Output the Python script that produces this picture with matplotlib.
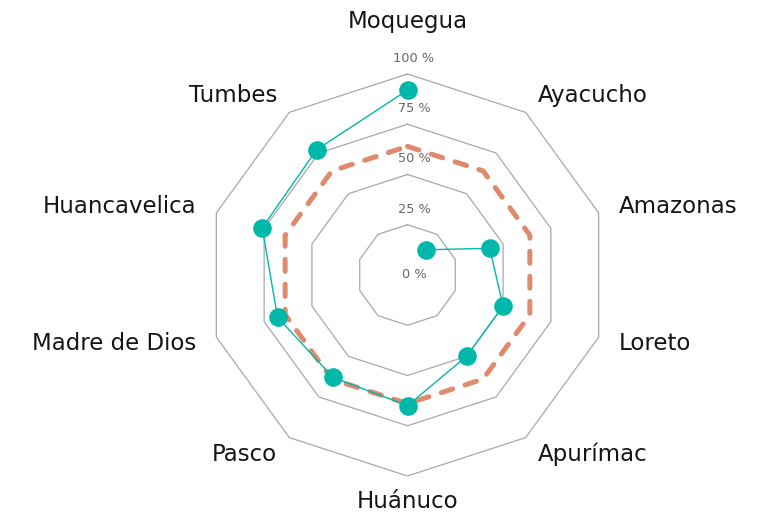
import numpy as np
import matplotlib
matplotlib.use("Agg")
import matplotlib.pyplot as plt
from matplotlib.transforms import offset_copy

plt.rcParams['font.family'] = ['DejaVu Sans']

categories = ["Moquegua", "Ayacucho", "Amazonas", "Loreto", "Apurímac",
              "Huánuco", "Pasco", "Madre de Dios", "Huancavelica", "Tumbes"]
region_values = [92, 15.5, 43, 50, 50, 65, 63, 68, 76, 77]
reference_values = [64, 64, 64, 64, 64, 64, 64, 64, 64, 64]
ring_ticks = [0, 25, 50, 75, 100]
ring_labels = ["0 %", "25 %", "50 %", "75 %", "100 %"]

W, H = 761, 519
fig = plt.figure(figsize=(W / 100, H / 100), dpi=100)
cx, cy, R = 407.5, 275.0, 201.0
ax = fig.add_axes([(cx - R) / W, (H - cy - R) / H, 2 * R / W, 2 * R / H],
                  projection='polar')
ax.set_theta_zero_location('N')
ax.set_theta_direction(-1)
ax.set_ylim(0, 100)
ax.grid(False)
ax.spines['polar'].set_visible(False)
ax.set_xticks([])
ax.set_yticks([])
ax.patch.set_alpha(0)

n = len(categories)
theta = np.linspace(0, 2 * np.pi, n, endpoint=False)
theta_closed = np.append(theta, theta[0])

# polygon grid rings
for t in ring_ticks[1:]:
    ax.plot(theta_closed, [t] * (n + 1), color='#A8A8A8', lw=0.9, zorder=1,
            clip_on=False)

# ring labels
tr = offset_copy(ax.transData, fig=fig, x=6.5, y=0, units='dots')
tr_up = offset_copy(ax.transData, fig=fig, x=6.5, y=15.5, units='dots')
for t, lab in zip(ring_ticks, ring_labels):
    ax.text(0, t, lab, transform=(tr if t == 0 else tr_up), ha='center',
            va='center', fontsize=9.3, color='#666666', zorder=5)

# reference dashed series (closed)
ref_closed = np.append(reference_values, reference_values[0])
ax.plot(theta_closed, ref_closed, color='#E08A6D', lw=3.6,
        linestyle=(0, (2.4, 2.6)), dash_capstyle='round',
        dash_joinstyle='round', zorder=2)

# region series (open between first and second category)
order = list(range(1, n)) + [0]
ax.plot(theta[order], np.array(region_values)[order], color='#00B8AA', lw=1.0,
        zorder=3)
ax.plot(theta, region_values, linestyle='none', marker='o', markersize=13.4,
        color='#00B8AA', markeredgewidth=0, zorder=4)

# category labels
for ang, lab in zip(theta, categories):
    deg = np.degrees(ang) % 360
    if np.isclose(deg, 0):
        r, ha = 126.0, 'center'
    elif np.isclose(deg, 180):
        r, ha = 112.5, 'center'
    elif deg < 180:
        r, ha = 110.5, 'left'
    else:
        r, ha = 110.5, 'right'
    ax.text(ang, r, lab, ha=ha, va='center', fontsize=16.5, color='#151515',
            clip_on=False)

fig.savefig('out.png', dpi=100)
